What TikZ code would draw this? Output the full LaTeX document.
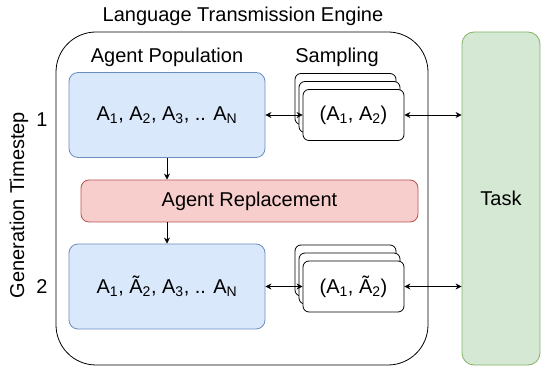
\documentclass[tikz,border=0pt]{standalone}
\usepackage{fontspec}
\setmainfont{Liberation Sans}
\usepackage[HTML]{xcolor}
\usepackage{tikz}
\usetikzlibrary{positioning, arrows.meta}

\definecolor{popfill}{HTML}{DAE8FC}
\definecolor{popline}{HTML}{6C8EBF}
\definecolor{repfill}{HTML}{F8CECC}
\definecolor{repline}{HTML}{B85450}
\definecolor{taskfill}{HTML}{D5E8D4}
\definecolor{taskline}{HTML}{82B366}

\tikzset{
  popbox/.style={draw=popline, fill=popfill, rounded corners=9pt, minimum width=196pt, minimum height=85pt},
  pairbox/.style={draw, fill=white, rounded corners=6pt, minimum width=101pt, minimum height=51pt},
  link/.style={-{Stealth[length=6pt, width=6pt]}},
  twoway/.style={{Stealth[length=6pt, width=6pt]}-{Stealth[length=6pt, width=6pt]}},
}

\begin{document}
\begin{tikzpicture}[x=1pt, y=-1pt, line width=0.8pt, inner sep=0pt,
  font=\fontsize{20}{24}\selectfont]
\useasboundingbox (0,0) rectangle (541,366);

% Engine frame and labels
\node[draw, rounded corners=40pt, minimum width=372pt, minimum height=333pt] (engine) at (242,198.5) {};
\node[anchor=base] (title) at (243,22) {Language Transmission Engine};
\node[anchor=base] (poplabel) at (167,63) {Agent Population};
\node[anchor=base] (samplabel) at (337,63) {Sampling};

% Timestep axis
\node[rotate=90] (gen) at (19,205) {Generation Timestep};
\node (step1) at (42,120) {1};
\node (step2) at (42,287) {2};

% Task
\node[draw=taskline, fill=taskfill, rounded corners=12pt, minimum width=78pt, minimum height=333pt] (task) at (501,198.5) {Task};

% Populations and replacement
\node[popbox] (pop1) at (167,115) {A\textsubscript{1}, A\textsubscript{2}, A\textsubscript{3}, .. A\textsubscript{N}};
\node[draw=repline, fill=repfill, rounded corners=8pt, minimum width=337pt, minimum height=42pt] (repl) at (249.5,201) {Agent Replacement};
\node[popbox] (pop2) at (167,286.5) {A\textsubscript{1}, Ã\textsubscript{2}, A\textsubscript{3}, .. A\textsubscript{N}};

% Sampled pairs, step 1
\node[pairbox] (pair1c) at (345.5,99) {};
\node[pairbox] (pair1b) at (349.5,107) {};
\node[pairbox] (pair1) at (353.5,115) {(A\textsubscript{1}, A\textsubscript{2})};

% Sampled pairs, step 2
\node[pairbox] (pair2c) at (345.5,270.5) {};
\node[pairbox] (pair2b) at (349.5,278.5) {};
\node[pairbox] (pair2) at (353.5,286.5) {(A\textsubscript{1}, Ã\textsubscript{2})};

% Arrows
\draw[twoway] (pop1.east) -- (pair1.west);
\draw[twoway] (pair1.east) -- (pair1.east -| task.west);
\draw[twoway] (pop2.east) -- (pair2.west);
\draw[twoway] (pair2.east) -- (pair2.east -| task.west);
\draw[link] (pop1.south) -- (pop1.south |- repl.north);
\draw[link] (repl.south -| pop2.north) -- (pop2.north);
\end{tikzpicture}
\end{document}
